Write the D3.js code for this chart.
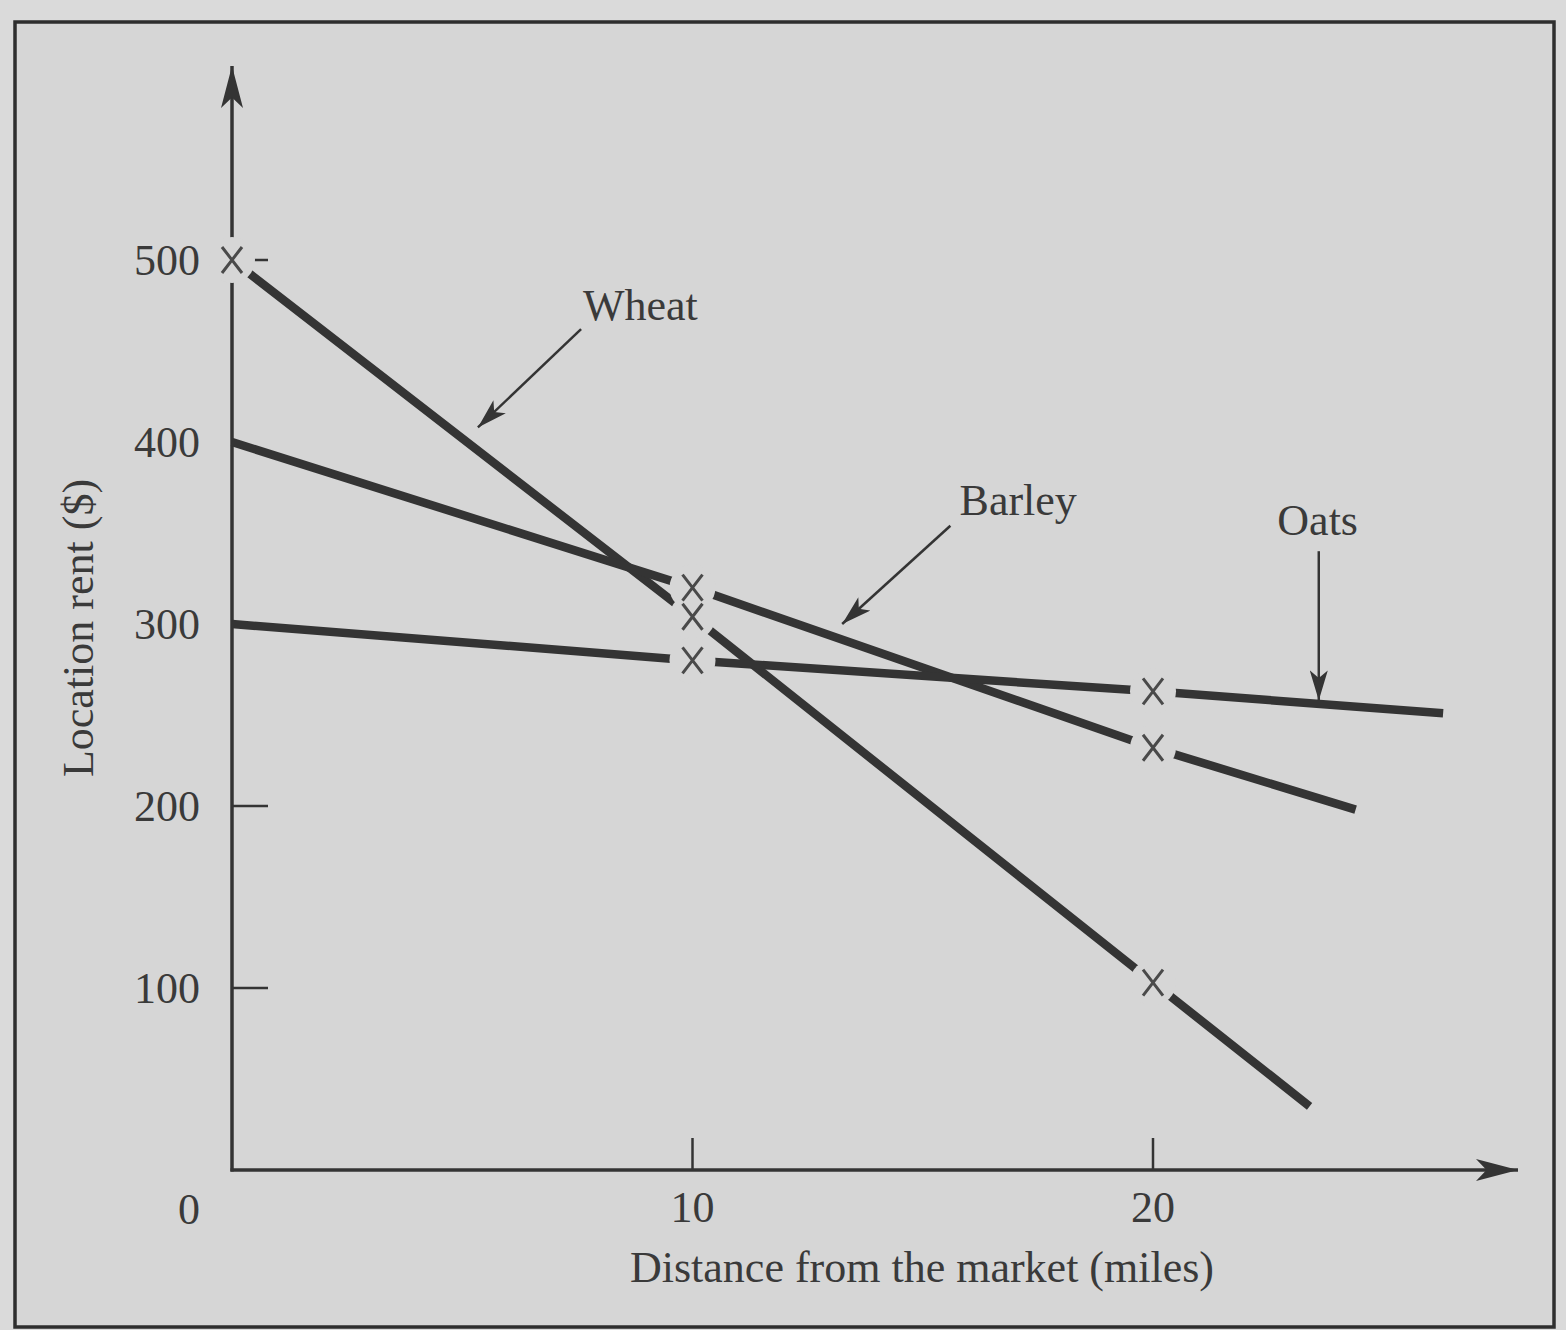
<!DOCTYPE html>
<html lang="en">
<head>
<meta charset="utf-8">
<title>Location rent by distance from the market</title>
<script src="https://d3js.org/d3.v7.min.js"></script>
<style>
body { margin: 0; background: #dadada; }
text { font-family: "Liberation Serif", "DejaVu Serif", serif; fill: #3a3a3a; }
</style>
</head>
<body>
<div id="chart"></div>
<script>

// ---- data ----
var wheatMiles  = [0, 10, 20, 23.4];
var wheatRent   = [500, 304, 103, 35];
var barleyMiles = [0, 10, 20, 24.4];
var barleyRent  = [400, 320, 232, 198];
var oatsMiles   = [0, 10, 20, 26.3];
var oatsRent    = [300, 280, 263, 251];

// distances where a cross is drawn on each line
var wheatMarked  = [0, 10, 20];
var barleyMarked = [10, 20];
var oatsMarked   = [10, 20];

var yTicks = [100, 200, 300, 400, 500];
var xTicks = [10, 20];

var W = 1566, H = 1330;
var bg = "#d6d6d6", ink = "#343434";

var svg = d3.select("#chart").append("svg")
    .attr("width", W)
    .attr("height", H);

// page + frame
svg.append("rect").attr("x", 15).attr("y", 22).attr("width", 1539).attr("height", 1305)
    .attr("fill", bg).attr("stroke", "#2e2e2e").attr("stroke-width", 3.5);

var x = d3.scaleLinear().domain([0, 20]).range([232, 1153]);
var y = d3.scaleLinear().domain([0, 500]).range([1170, 260]);

// arrow heads
var defs = svg.append("defs");
function marker(id, len, half) {
  defs.append("marker")
      .attr("id", id)
      .attr("viewBox", "0 0 " + len + " " + (half * 2))
      .attr("refX", len).attr("refY", half)
      .attr("markerWidth", len).attr("markerHeight", half * 2)
      .attr("markerUnits", "userSpaceOnUse")
      .attr("orient", "auto")
    .append("path")
      .attr("d", "M0,0 L" + len + "," + half + " L0," + (half * 2) + " L" + (len * 0.25) + "," + half + " Z")
      .attr("fill", ink);
}
marker("axisHead", 42, 11);
marker("noteHead", 30, 9);

// axes
svg.append("line")
    .attr("x1", x(0)).attr("y1", y(0) + 1.5)
    .attr("x2", x(0)).attr("y2", 66)
    .attr("stroke", ink).attr("stroke-width", 3.5)
    .attr("marker-end", "url(#axisHead)");
svg.append("line")
    .attr("x1", x(0) - 1.5).attr("y1", y(0))
    .attr("x2", 1518).attr("y2", y(0))
    .attr("stroke", ink).attr("stroke-width", 3.5)
    .attr("marker-end", "url(#axisHead)");

// ticks (inside the axes) - hidden where a rent line starts on the axis
var shownYTicks = yTicks.filter(function(d) { return d !== barleyRent[0] && d !== oatsRent[0]; });
svg.selectAll(".ytick").data(shownYTicks).enter().append("line")
    .attr("x1", x(0)).attr("x2", x(0) + 36)
    .attr("y1", function(d) { return y(d); })
    .attr("y2", function(d) { return y(d); })
    .attr("stroke", ink).attr("stroke-width", 2.5);
svg.selectAll(".xtick").data(xTicks).enter().append("line")
    .attr("x1", function(d) { return x(d); })
    .attr("x2", function(d) { return x(d); })
    .attr("y1", y(0)).attr("y2", y(0) - 32)
    .attr("stroke", ink).attr("stroke-width", 2.5);

// tick labels
svg.selectAll(".ylab").data(yTicks).enter().append("text")
    .attr("x", 200)
    .attr("y", function(d) { return y(d) + 15; })
    .attr("text-anchor", "end")
    .style("font-size", "44px")
    .text(function(d) { return d; });
svg.selectAll(".xlab").data(xTicks).enter().append("text")
    .attr("x", function(d) { return x(d); })
    .attr("y", 1222)
    .attr("text-anchor", "middle")
    .style("font-size", "44px")
    .text(function(d) { return d; });
svg.append("text").attr("x", 189).attr("y", 1224).attr("text-anchor", "middle")
    .style("font-size", "44px").text("0");

// axis titles
svg.append("text")
    .attr("x", 922).attr("y", 1282)
    .attr("text-anchor", "middle")
    .style("font-size", "44px")
    .text("Distance from the market (miles)");
svg.append("text")
    .attr("transform", "translate(93,628) rotate(-90)")
    .attr("text-anchor", "middle")
    .style("font-size", "44px")
    .text("Location rent ($)");

// the three rent lines
var series = [
  { name: "Wheat",  miles: wheatMiles,  rent: wheatRent,  marked: wheatMarked },
  { name: "Barley", miles: barleyMiles, rent: barleyRent, marked: barleyMarked },
  { name: "Oats",   miles: oatsMiles,   rent: oatsRent,   marked: oatsMarked }
];
series.forEach(function(s) {
  s.points = s.miles.map(function(m, i) { return [m, s.rent[i]]; });
  s.crosses = s.marked.map(function(m) { return [m, s.rent[s.miles.indexOf(m)]]; });
});

var line = d3.line()
    .x(function(d) { return x(d[0]); })
    .y(function(d) { return y(d[1]); });

svg.selectAll(".rent").data(series).enter().append("path")
    .attr("d", function(d) { return line(d.points); })
    .attr("fill", "none")
    .attr("stroke", ink)
    .attr("stroke-width", 8.5);

// lines are broken around each cross
var crosses = [];
series.forEach(function(s) { crosses = crosses.concat(s.crosses); });

svg.selectAll(".gap").data(crosses).enter().append("circle")
    .attr("cx", function(d) { return x(d[0]); })
    .attr("cy", function(d) { return y(d[1]); })
    .attr("r", 23)
    .attr("fill", bg);

svg.selectAll(".cross").data(crosses).enter().append("path")
    .attr("d", function(d) {
      var cx = x(d[0]), cy = y(d[1]);
      return "M" + (cx - 10) + "," + (cy - 13) + "L" + (cx + 10) + "," + (cy + 13) +
             "M" + (cx + 10) + "," + (cy - 13) + "L" + (cx - 10) + "," + (cy + 13);
    })
    .attr("stroke", "#4a4a4a")
    .attr("stroke-width", 3)
    .attr("fill", "none");

// labels with pointer arrows
var notes = [
  { text: "Wheat",  tx: 7.62, ty: 467, from: [7.58, 462], to: [5.34, 408] },
  { text: "Barley", tx: 15.8, ty: 360, from: [15.6, 354], to: [13.25, 300] },
  { text: "Oats",   tx: 22.7, ty: 349, from: [23.6, 340], to: [23.6, 258] }
];

svg.selectAll(".note").data(notes).enter().append("text")
    .attr("x", function(d) { return x(d.tx); })
    .attr("y", function(d) { return y(d.ty); })
    .style("font-size", "44px")
    .text(function(d) { return d.text; });

svg.selectAll(".pointer").data(notes).enter().append("line")
    .attr("x1", function(d) { return x(d.from[0]); })
    .attr("y1", function(d) { return y(d.from[1]); })
    .attr("x2", function(d) { return x(d.to[0]); })
    .attr("y2", function(d) { return y(d.to[1]); })
    .attr("stroke", ink)
    .attr("stroke-width", 2.5)
    .attr("marker-end", "url(#noteHead)");

</script>
</body>
</html>
